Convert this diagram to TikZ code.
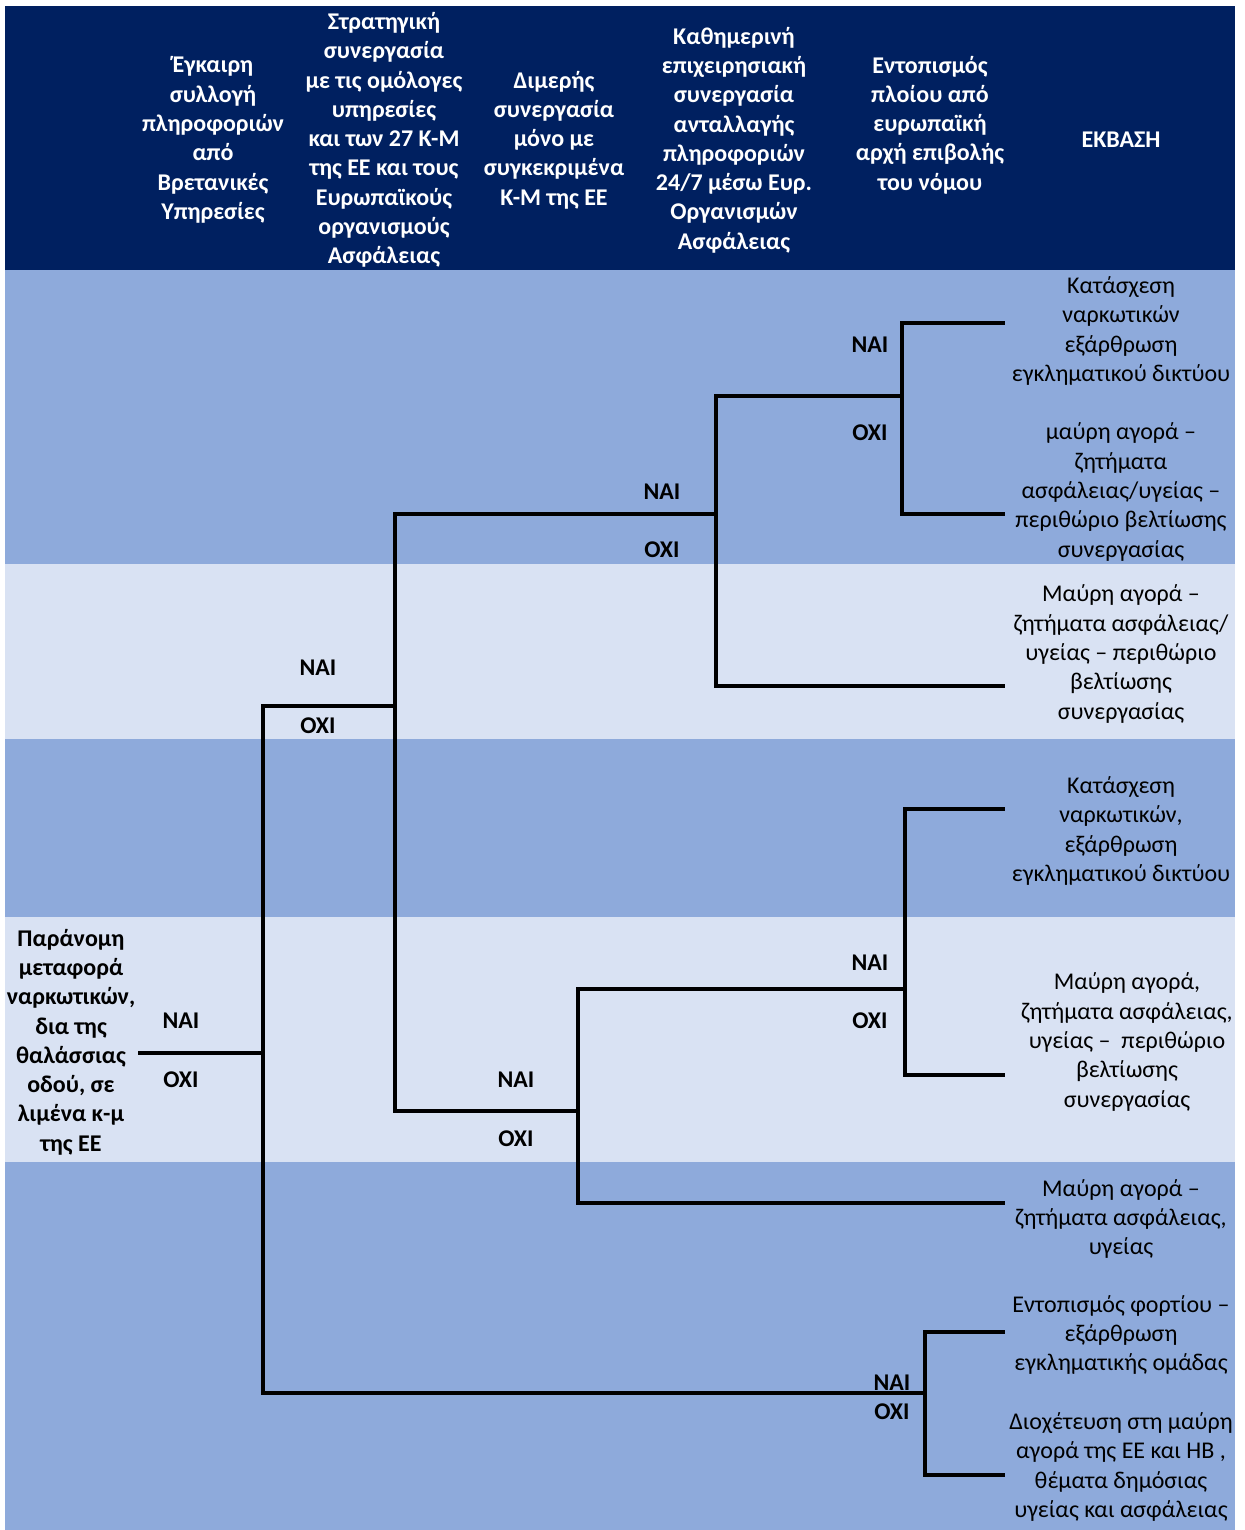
\documentclass[tikz,border=0pt]{standalone}
\usepackage{fontspec}
\setmainfont{Carlito}
\usepackage{xcolor}
\definecolor{hdnavy}{HTML}{002060}
\definecolor{bandmid}{HTML}{8EAADB}
\definecolor{bandpale}{HTML}{D9E2F3}

\tikzset{
  hdtext/.style={color=white, font=\fontsize{24}{29.3}\selectfont\bfseries, align=center, inner sep=0.75pt},
  roottext/.style={font=\fontsize{24}{29.3}\selectfont\bfseries, align=center, inner sep=0.75pt},
  yesno/.style={font=\fontsize{24}{26}\selectfont\bfseries, inner sep=0.75pt},
  outtext/.style={font=\fontsize{24}{29.3}\selectfont, align=center, inner sep=0.75pt},
  branch/.style={line width=3.3pt, line cap=rect}
}

\begin{document}
\begin{tikzpicture}[x=1pt,y=1pt,yscale=-1,xscale=1]
    \useasboundingbox (0,0) rectangle (1244,1530);

    %Shape: Rectangle [header]
    \fill [hdnavy] (5,6) rectangle (1235,270);
    %Shape: Rectangles [bands]
    \fill [bandmid] (5,270) rectangle (1235,564);
    \fill [bandpale] (5,564) rectangle (1235,739);
    \fill [bandmid] (5,739) rectangle (1235,917);
    \fill [bandpale] (5,917) rectangle (1235,1162);
    \fill [bandmid] (5,1162) rectangle (1235,1530);

    % Text Node
    \node (h1) at (213,140) [hdtext] {Έγκαιρη\\συλλογή\\πληροφοριών\\από\\Βρετανικές\\Υπηρεσίες};
    % Text Node
    \node (h2) at (384,140) [hdtext] {Στρατηγική\\συνεργασία\\με τις ομόλογες\\υπηρεσίες\\και των 27 Κ-Μ\\της ΕΕ και τους\\Ευρωπαϊκούς\\οργανισμούς\\Ασφάλειας};
    % Text Node
    \node (h3) at (554,140) [hdtext] {Διμερής\\συνεργασία\\μόνο με\\συγκεκριμένα\\Κ-Μ της ΕΕ};
    % Text Node
    \node (h4) at (734,140) [hdtext] {Καθημερινή\\επιχειρησιακή\\συνεργασία\\ανταλλαγής\\πληροφοριών\\24/7 μέσω Ευρ.\\Οργανισμών\\Ασφάλειας};
    % Text Node
    \node (h5) at (930,125) [hdtext] {Εντοπισμός\\πλοίου από\\ευρωπαϊκή\\αρχή επιβολής\\του νόμου};
    % Text Node
    \node (h6) at (1121,140) [hdtext] {ΕΚΒΑΣΗ};

    % Text Node
    \node (root) at (71,1042) [roottext] {Παράνομη\\μεταφορά\\ναρκωτικών,\\δια της\\θαλάσσιας\\οδού, σε\\λιμένα κ-μ\\της ΕΕ};

    % Outcome Nodes
    \node (o1) at (1121,331) [outtext] {Κατάσχεση\\ναρκωτικών\\εξάρθρωση\\εγκληματικού δικτύου};
    \node (o2) at (1121,492) [outtext] {μαύρη αγορά –\\ζητήματα\\ασφάλειας/υγείας –\\περιθώριο βελτίωσης\\συνεργασίας};
    \node (o3) at (1121,654) [outtext] {Μαύρη αγορά –\\ζητήματα ασφάλειας/\\υγείας – περιθώριο\\βελτίωσης\\συνεργασίας};
    \node (o4) at (1121,831) [outtext] {Κατάσχεση\\ναρκωτικών,\\εξάρθρωση\\εγκληματικού δικτύου};
    \node (o5) at (1127,1042) [outtext] {Μαύρη αγορά,\\ζητήματα ασφάλειας,\\υγείας –~ περιθώριο\\βελτίωσης\\συνεργασίας};
    \node (o6) at (1121,1219) [outtext] {Μαύρη αγορά –\\ζητήματα ασφάλειας,\\υγείας};
    \node (o7) at (1121,1335) [outtext] {Εντοπισμός φορτίου –\\εξάρθρωση\\εγκληματικής ομάδας};
    \node (o8) at (1121,1467) [outtext] {Διοχέτευση στη μαύρη\\αγορά της ΕΕ και ΗΒ ,\\θέματα δημόσιας\\υγείας και ασφάλειας};

    % Branch points
    \coordinate (r0) at (140,1053);
    \coordinate (j0) at (263,1053);
    \coordinate (j0t) at (263,706);
    \coordinate (j0b) at (263,1393);
    \coordinate (ja) at (395,706);
    \coordinate (jat) at (395,514);
    \coordinate (jab) at (395,1111);
    \coordinate (jc) at (716,514);
    \coordinate (jct) at (716,396);
    \coordinate (jcb) at (716,686);
    \coordinate (jk) at (902,396);
    \coordinate (jkt) at (902,323);
    \coordinate (jkb) at (902,514);
    \coordinate (jd) at (578,1111);
    \coordinate (jdt) at (578,989);
    \coordinate (jdb) at (578,1203);
    \coordinate (jm) at (905,989);
    \coordinate (jmt) at (905,809);
    \coordinate (jmb) at (905,1075);
    \coordinate (jb) at (925,1393);
    \coordinate (jbt) at (925,1332);
    \coordinate (jbb) at (925,1475);
    % Line ends at the outcomes
    \coordinate (e1) at (1003,323);
    \coordinate (e2) at (1003,514);
    \coordinate (e3) at (1003,686);
    \coordinate (e4) at (1003,809);
    \coordinate (e5) at (1003,1075);
    \coordinate (e6) at (1003,1203);
    \coordinate (e7) at (1003,1332);
    \coordinate (e8) at (1003,1475);

    %Straight Lines
    \draw [branch] (r0) -- (j0);
    \draw [branch] (j0t) -- (j0b);
    \draw [branch] (j0t) -- (ja);
    \draw [branch] (j0b) -- (jb);
    \draw [branch] (jat) -- (jab);
    \draw [branch] (jat) -- (jc);
    \draw [branch] (jab) -- (jd);
    \draw [branch] (jct) -- (jcb);
    \draw [branch] (jct) -- (jk);
    \draw [branch] (jcb) -- (e3);
    \draw [branch] (jkt) -- (jkb);
    \draw [branch] (jkt) -- (e1);
    \draw [branch] (jkb) -- (e2);
    \draw [branch] (jdt) -- (jdb);
    \draw [branch] (jdt) -- (jm);
    \draw [branch] (jdb) -- (e6);
    \draw [branch] (jmt) -- (jmb);
    \draw [branch] (jmt) -- (e4);
    \draw [branch] (jmb) -- (e5);
    \draw [branch] (jbt) -- (jbb);
    \draw [branch] (jbt) -- (e7);
    \draw [branch] (jbb) -- (e8);

    % Text Node
    \node (y0) at (181,1021) [yesno] {ΝΑΙ};
    \node (n0) at (181,1080) [yesno] {ΟΧΙ};
    \node (y1) at (318,668) [yesno] {ΝΑΙ};
    \node (n1) at (318,726) [yesno] {ΟΧΙ};
    \node (y2) at (662,492) [yesno] {ΝΑΙ};
    \node (n2) at (662,550) [yesno] {ΟΧΙ};
    \node (y3) at (870,345) [yesno] {ΝΑΙ};
    \node (n3) at (870,433) [yesno] {ΟΧΙ};
    \node (y4) at (516,1080) [yesno] {ΝΑΙ};
    \node (n4) at (516,1139) [yesno] {ΟΧΙ};
    \node (y5) at (870,963) [yesno] {ΝΑΙ};
    \node (n5) at (870,1021) [yesno] {ΟΧΙ};
    \node (y6) at (892,1383) [yesno] {ΝΑΙ};
    \node (n6) at (892,1412) [yesno] {ΟΧΙ};

\end{tikzpicture}
\end{document}
